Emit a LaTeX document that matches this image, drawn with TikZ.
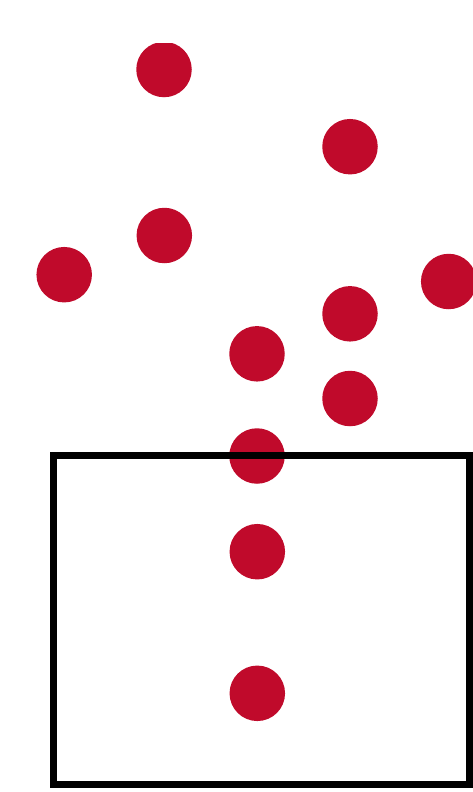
\documentclass[tikz,border=0pt]{standalone}
\definecolor{dotred}{RGB}{192,10,43}
\begin{document}
\begin{tikzpicture}[x=1pt,y=-1pt,
  dot/.style={circle,fill=dotred,draw=none,inner sep=0pt,minimum size=55.5pt},
  frame/.style={draw=black,line width=7pt,fill=none,inner sep=0pt,minimum width=416pt,minimum height=328.8pt}]
\useasboundingbox (0,0) rectangle (473,792);
\begin{scope}
\clip (0,43.3) rectangle (473,792);
\node[dot] (c1) at (164,69.5) {};
\node[dot] (c2) at (350,146.7) {};
\node[dot] (c3) at (164.3,235.5) {};
\node[dot] (c4) at (64.2,274.7) {};
\node[dot] (c5) at (448.7,281.5) {};
\node[dot] (c6) at (350,313.8) {};
\node[dot] (c7) at (257,353.8) {};
\node[dot] (c8) at (350,398.5) {};
\node[dot] (c9) at (257,456) {};
\node[dot] (c10) at (257.3,551.7) {};
\node[dot] (c11) at (257.3,693.3) {};
\node[frame] (box) at (261.3,619.6) {};
\end{scope}
\end{tikzpicture}
\end{document}
